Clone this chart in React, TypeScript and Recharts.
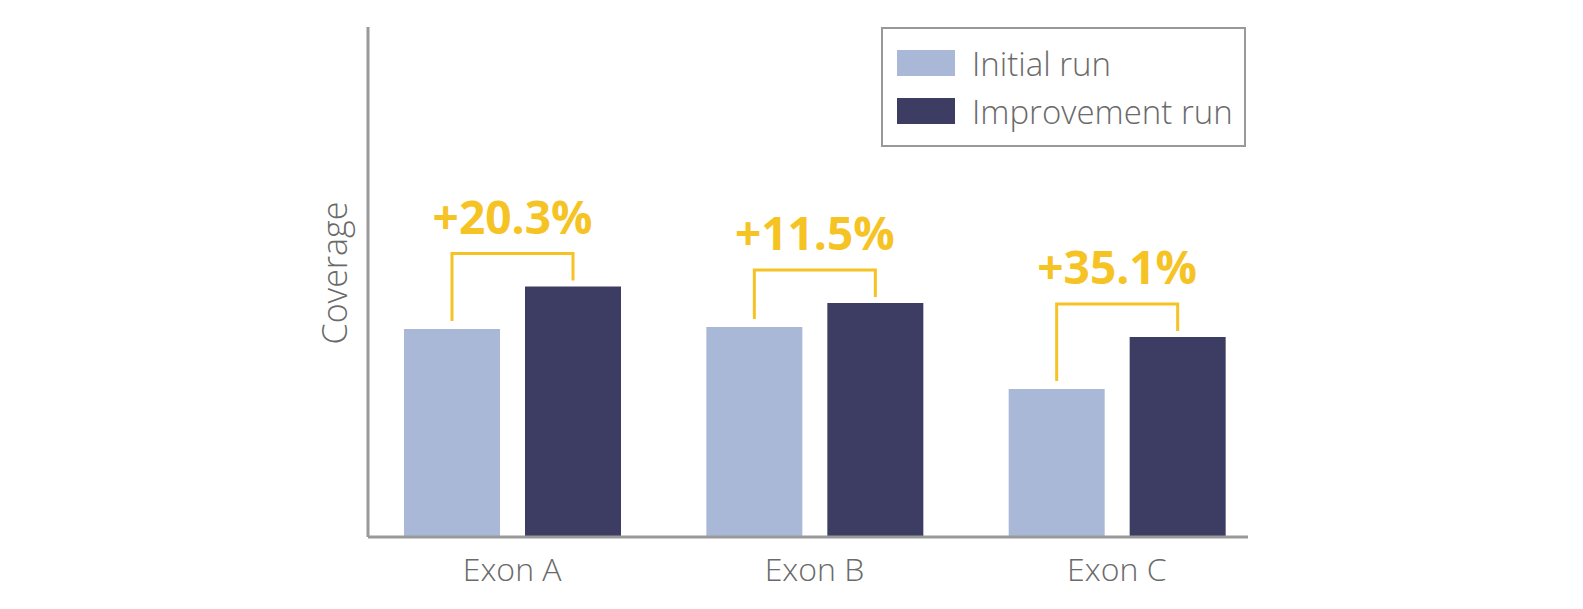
import React from 'react';
import { BarChart, Bar, XAxis, YAxis, Legend, LabelList } from 'recharts';

const categories = ['Exon A', 'Exon B', 'Exon C'];
const seriesNames = ['Initial run', 'Improvement run'];
const initialRun = [40.8, 41.2, 29.0];
const improvementRun = [49.1, 45.9, 39.2];
const gainLabels = ['+20.3%', '+11.5%', '+35.1%'];

const data = categories.map((name, i) => ({
  name,
  initial: initialRun[i],
  improvement: improvementRun[i],
}));

const FONT = '"Open Sans", sans-serif';
const LIGHT = '#aab8d8';
const DARK = '#3d3c63';
const YELLOW = '#f6c325';
const GREY_TEXT = '#6a6a6a';
const AXIS = '#999999';
const BAR_SIZE = 96;
const BAR_GAP = 25;

// bracket + percentage drawn above each pair, from the improvement bar's geometry
const Bracket = (props: any) => {
  const { x, y, width, height, index } = props;
  const ratio = initialRun[index] / improvementRun[index];
  const initTop = y + height - height * ratio;
  const rightX = x + width / 2;
  const leftX = x - BAR_GAP - width / 2;
  const topY = y - 33;
  return (
    <g>
      <polyline
        points={`${leftX},${initTop - 8} ${leftX},${topY} ${rightX},${topY} ${rightX},${y - 6}`}
        fill="none"
        stroke={YELLOW}
        strokeWidth={3}
      />
      <text
        x={(leftX + rightX) / 2}
        y={topY - 20}
        textAnchor="middle"
        fill={YELLOW}
        fontFamily={FONT}
        fontWeight={700}
        fontSize={46}
      >
        {gainLabels[index]}
      </text>
    </g>
  );
};

const LegendBox = (props: any) => {
  const payload = [...(props.payload || [])].sort(
    (a: any, b: any) => seriesNames.indexOf(a.value) - seriesNames.indexOf(b.value)
  );
  return (
    <div
      style={{
        border: `2px solid ${AXIS}`,
        width: 365,
        height: 120,
        boxSizing: 'border-box',
        padding: '10px 0 0 14px',
        fontFamily: FONT,
        fontWeight: 300,
        color: GREY_TEXT,
        fontSize: 33,
      }}
    >
      {payload.map((p: any) => (
        <div key={p.value} style={{ display: 'flex', alignItems: 'center', height: 48 }}>
          <span style={{ width: 58, height: 26, background: p.color, marginRight: 17, display: 'inline-block' }} />
          <span>{p.value}</span>
        </div>
      ))}
    </div>
  );
};

const CoverageLabel = (props: any) => {
  const { viewBox } = props;
  const cx = viewBox.x + viewBox.width / 2;
  const cy = viewBox.y + viewBox.height / 2 - 9;
  return (
    <text
      x={cx}
      y={cy}
      transform={`rotate(-90, ${cx}, ${cy})`}
      textAnchor="middle"
      dominantBaseline="central"
      fill={GREY_TEXT}
      fontFamily={FONT}
      fontWeight={300}
      fontSize={34}
    >
      Coverage
    </text>
  );
};

export default function App() {
  return (
    <div style={{ position: 'absolute', left: 0, top: 0, background: '#fff' }}>
      <BarChart
        width={1583}
        height={609}
        data={data}
        barSize={BAR_SIZE}
        barGap={BAR_GAP}
        margin={{ top: 27, right: 335, left: 300, bottom: 12 }}
      >
        <XAxis
          dataKey="name"
          padding={{ left: -7, right: -20 }}
          axisLine={{ stroke: AXIS, strokeWidth: 3 }}
          tickLine={false}
          tickMargin={15}
          height={60}
          tick={{ fill: GREY_TEXT, fontSize: 32, fontFamily: FONT, fontWeight: 300 }}
        />
        <YAxis
          domain={[0, 100]}
          width={68}
          tick={false}
          tickLine={false}
          axisLine={{ stroke: AXIS, strokeWidth: 3 }}
          label={<CoverageLabel />}
        />
        <Legend
          layout="horizontal"
          verticalAlign="middle"
          content={<LegendBox />}
          wrapperStyle={{ position: 'absolute', left: 881, top: 27, width: 370 }}
        />
        <Bar dataKey="initial" name="Initial run" fill={LIGHT} isAnimationActive={false} />
        <Bar dataKey="improvement" name="Improvement run" fill={DARK} isAnimationActive={false}>
          <LabelList dataKey="improvement" content={<Bracket />} />
        </Bar>
      </BarChart>
    </div>
  );
}
